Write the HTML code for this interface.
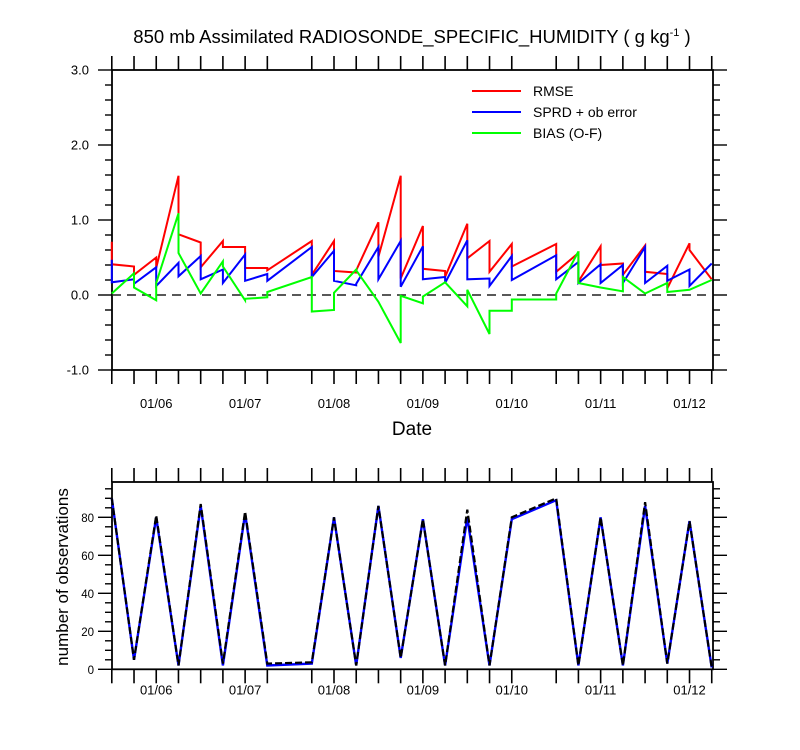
<!DOCTYPE html>
<html><head><meta charset="utf-8"><style>
body{margin:0;background:#fff;}
svg{display:block;font-family:"Liberation Sans",Arial,sans-serif;}
</style></head><body>
<svg id="chart" width="800" height="750" viewBox="0 0 800 750" xmlns="http://www.w3.org/2000/svg">
<text x="412" y="43" font-size="18.5" text-anchor="middle">850 mb Assimilated RADIOSONDE_SPECIFIC_HUMIDITY ( g kg<tspan font-size="11" dy="-7">-1</tspan><tspan dy="7"> )</tspan></text>
<g id="topPanel"></g>
<g id="botPanel"></g>
<text x="412" y="435" font-size="19" text-anchor="middle">Date</text>
<text transform="translate(68,577) rotate(-90)" font-size="17" text-anchor="middle">number of observations</text>
<g>
<line x1="472" y1="91" x2="521" y2="91" stroke="#f00" stroke-width="2"/>
<text x="533" y="96" font-size="14">RMSE</text>
<line x1="472" y1="112" x2="521" y2="112" stroke="#00f" stroke-width="2"/>
<text x="533" y="117" font-size="14">SPRD + ob error</text>
<line x1="472" y1="133" x2="521" y2="133" stroke="#0f0" stroke-width="2"/>
<text x="533" y="138" font-size="14">BIAS (O-F)</text>
</g>
</svg>
<script>
const NS="http://www.w3.org/2000/svg";
// data
const timeIdx=[0,1,2,3,4,5,6,7,9,10,11,12,13,14,15,16,17,18,20,21,22,23,24,25,26,27];
const dateLabels=["01/06","01/07","01/08","01/09","01/10","01/11","01/12"];
const dateLabelIdx=[2,6,10,14,18,22,26];
const rmseA=[.71,.38,.50,1.59,.70,.72,.64,.36,.72,.72,.30,.97,1.59,.92,.32,.95,.72,.68,.68,.56,.65,.42,.66,.28,.69,.21];
const rmseB=[.41,.27,.36,.81,.37,.64,.36,.33,.27,.32,.33,.51,.22,.35,.24,.49,.31,.38,.31,.18,.40,.27,.31,.09,.60,.21];
const sprdA=[.47,.21,.37,.43,.52,.34,.54,.28,.64,.59,.13,.64,.72,.65,.24,.73,.22,.52,.53,.44,.41,.40,.64,.39,.34,.42];
const sprdB=[.17,.15,.12,.25,.21,.16,.19,.19,.24,.19,.15,.21,.11,.21,.16,.21,.12,.20,.21,.16,.16,.16,.16,.19,.12,.42];
const biasA=[.02,.29,-.07,1.09,.02,.45,-.07,-.03,.24,-.20,.34,-.09,-.64,-.11,.17,-.15,-.52,-.21,-.06,.58,.10,.05,.02,.16,.07,.20];
const biasB=[.02,.10,.16,.56,.02,.38,-.05,.04,-.22,.03,.33,-.09,-.01,-.02,.17,.07,-.21,-.06,.02,.16,.10,.24,.02,.04,.07,.20];
const nobsTotal=[90,5,81,2,87,3,83,3,3.7,80,2,86,6,79,2,84,2,80,90,2,80,2,88,3,78,1];
const nobsUsed=[90,5,80,2,86,2,82,2,3,80,2,86,6,79,2,80,2,79,89,2,80,2,86,3,78,1];
const topTicks=[-1,0,1,2,3];
const botTicks=[0,20,40,60,80];

const X0=111.8,DX=22.22,L=112,R=713;
const xs=i=>X0+DX*i;
const yTop=v=>295-75*v;
const yBot=v=>669.3-1.9*v;

function el(tag,attrs,parent){const e=document.createElementNS(NS,tag);for(const k in attrs)e.setAttribute(k,attrs[k]);parent.appendChild(e);return e;}
const topG=document.getElementById('topPanel'),botG=document.getElementById('botPanel');

function frame(g,yT,yB,ys,ticks,minStep,minLo,minHi,fmt,name){
  const r=el('rect',{x:L,y:yT,width:R-L,height:yB-yT,fill:'none',stroke:'#000','stroke-width':1.8},g);
  
  
  timeIdx.forEach(i=>{
    const t1=el('line',{x1:xs(i),x2:xs(i),y1:yT,y2:yT-14,stroke:'#000','stroke-width':1.6},g);
    
    
    const t2=el('line',{x1:xs(i),x2:xs(i),y1:yB,y2:yB+14,stroke:'#000','stroke-width':1.6},g);
    
    
  });
  for(let v=minLo;v<=minHi+1e-9;v+=minStep){
    const y=ys(v);
    const isMaj=ticks.some(t=>Math.abs(t-v)<1e-6);
    const len=isMaj?14:7;
    const a=el('line',{x1:L-len,x2:L,y1:y,y2:y,stroke:'#000','stroke-width':1.4},g);
    
    
    const b=el('line',{x1:R,x2:R+len,y1:y,y2:y,stroke:'#000','stroke-width':1.4},g);
    
    
  }
  ticks.forEach(v=>{
    const t=el('text',{x:name==='top'?89:94,y:ys(v)+4.5,'font-size':name==='top'?13:11.5,'text-anchor':'end'},g);
    t.textContent=fmt(v);
    
    
  });
  dateLabelIdx.forEach((i,k)=>{
    const t=el('text',{x:xs(i),y:yB+(name==='top'?38:25),'font-size':13,'text-anchor':'middle'},g);
    t.textContent=dateLabels[k];
    
    
  });
}
frame(topG,70,370,yTop,topTicks,0.2,-1,3,v=>v.toFixed(1),'top');
frame(botG,482,669.3,yBot,botTicks,5,0,95,v=>String(v),'bot');

const zl=el('line',{x1:L,x2:R,y1:yTop(0),y2:yTop(0),stroke:'#222','stroke-width':1.6,'stroke-dasharray':'9,6'},topG);



function sawPath(a,b){
  let d='';
  timeIdx.forEach((i,k)=>{
    d+=(k?'L':'M')+xs(i).toFixed(1)+','+yTop(a[k]).toFixed(1);
    if(k<timeIdx.length-1)d+='L'+xs(i).toFixed(1)+','+yTop(b[k]).toFixed(1);
  });
  return d;
}
const pr=el('path',{d:sawPath(rmseA,rmseB),fill:'none',stroke:'#f00','stroke-width':2},topG);


const pb=el('path',{d:sawPath(sprdA,sprdB),fill:'none',stroke:'#00f','stroke-width':2},topG);


const pg=el('path',{d:sawPath(biasA,biasB),fill:'none',stroke:'#0f0','stroke-width':2},topG);



function simple(v){return timeIdx.map((i,k)=>(k?'L':'M')+xs(i).toFixed(1)+','+yBot(v[k]).toFixed(1)).join('');}
const nb=el('path',{d:simple(nobsUsed),fill:'none',stroke:'#00f','stroke-width':2.4},botG);


const nk=el('path',{d:simple(nobsTotal),fill:'none',stroke:'#000','stroke-width':2.2,'stroke-dasharray':'7,3'},botG);


</script>
</body></html>
